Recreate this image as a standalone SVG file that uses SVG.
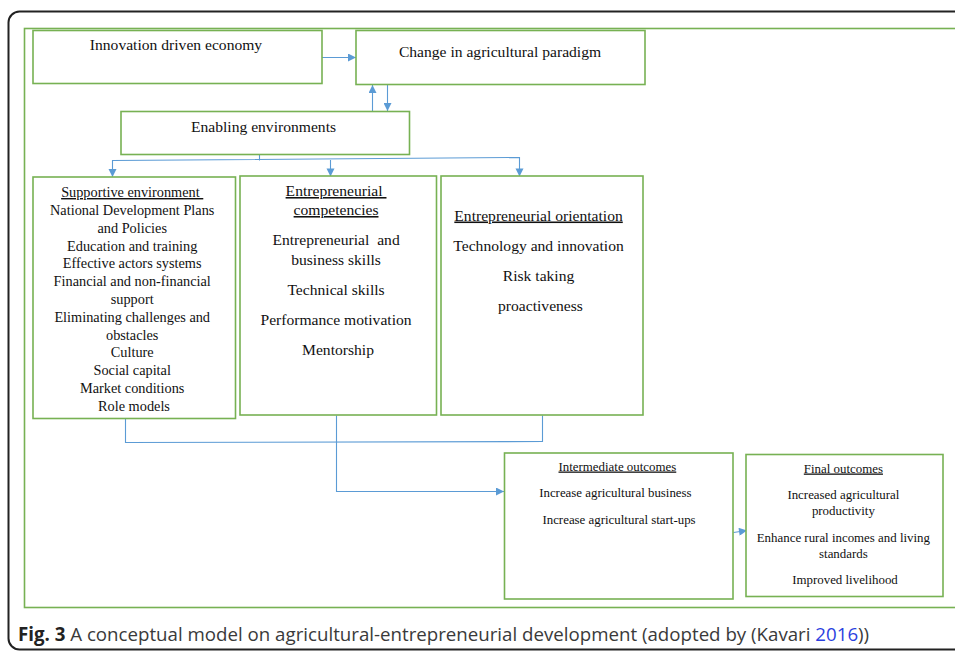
<svg xmlns="http://www.w3.org/2000/svg" width="955" height="652" viewBox="0 0 955 652">
<style>
.box{fill:#fff;stroke:#77b153;stroke-width:1.6}
.t{font-family:"Liberation Serif","Times New Roman",serif;fill:#111;text-anchor:middle}
.f15{font-size:15.6px}
.f14{font-size:14.3px}
.f12{font-size:12.9px}
.u{text-decoration:underline}
.c{fill:none;stroke:#5b9bd5;stroke-width:1.1}
.cap{font-family:"Open Sans","Noto Sans",sans-serif;font-size:18.7px;fill:#3a3a3a}
</style>
<defs>
<marker id="ah" viewBox="0 0 10 10" refX="10" refY="5" markerWidth="9" markerHeight="8" orient="auto" markerUnits="userSpaceOnUse">
<path d="M0,0 L10,5 L0,10 z" fill="#5b9bd5"/>
</marker>
</defs>
<rect width="955" height="652" fill="#fff"/>
<rect x="8.5" y="11.5" width="970" height="638" rx="11" fill="none" stroke="#222" stroke-width="2"/>
<rect x="24.5" y="28.5" width="950" height="579" fill="none" stroke="#77b153" stroke-width="1.6"/>

<g id="connectors">
<line class="c" x1="321" y1="57.5" x2="356" y2="57.5" marker-end="url(#ah)"/>
<line class="c" x1="372.5" y1="111" x2="372.5" y2="85" marker-end="url(#ah)"/>
<line class="c" x1="387.5" y1="85" x2="387.5" y2="111" marker-end="url(#ah)"/>
<polyline class="c" points="259.5,154.5 259.5,160.5"/>
<polyline class="c" points="112.5,176.5 112.5,160.5 519.5,157.5 519.5,176"/>
<line class="c" x1="330.5" y1="160" x2="330.5" y2="176"/>
<path d="M108.5,169 L116.5,169 L112.5,177 z" fill="#5b9bd5"/>
<path d="M326.5,168.5 L334.5,168.5 L330.5,176.5 z" fill="#5b9bd5"/>
<path d="M515.5,168.5 L523.5,168.5 L519.5,176.5 z" fill="#5b9bd5"/>
<polyline class="c" points="125.5,418.5 125.5,442.5 542.5,441.5 542.5,415.5"/>
<polyline class="c" points="336.5,415.5 336.5,491.5 504,491.5" marker-end="url(#ah)"/>
<line class="c" x1="733.5" y1="532.5" x2="747" y2="530.5" marker-end="url(#ah)"/>
</g>

<g id="innovation">
<rect class="box" x="33" y="30.5" width="289" height="53"/>
<text class="t f15" x="176" y="50">Innovation driven economy</text>
</g>
<g id="change">
<rect class="box" x="356" y="30.5" width="289" height="54"/>
<text class="t f15" x="500" y="57">Change in agricultural paradigm</text>
</g>
<g id="enabling">
<rect class="box" x="121" y="111.5" width="288.5" height="43"/>
<text class="t f15" x="263.5" y="131.5">Enabling environments</text>
</g>
<g id="supportive">
<rect class="box" x="33" y="177" width="202.5" height="241.5"/>
<text class="t f14">
<tspan class="u" x="134" y="197">Supportive environment&#160;</tspan>
<tspan x="134" y="215">National Development Plans</tspan>
<tspan x="134" y="232.8">and Policies</tspan>
<tspan x="134" y="250.6">Education and training</tspan>
<tspan x="134" y="268.4">Effective actors systems</tspan>
<tspan x="134" y="286.2">Financial and non-financial</tspan>
<tspan x="134" y="304">support</tspan>
<tspan x="134" y="321.8">Eliminating challenges and</tspan>
<tspan x="134" y="339.6">obstacles</tspan>
<tspan x="134" y="357.4">Culture</tspan>
<tspan x="134" y="375.2">Social capital</tspan>
<tspan x="134" y="393">Market conditions</tspan>
<tspan x="134" y="410.8">Role models</tspan>
</text>
</g>
<g id="competencies">
<rect class="box" x="240" y="176" width="196.5" height="239"/>
<text class="t f15">
<tspan class="u" x="338" y="196">Entrepreneurial&#160;</tspan>
<tspan class="u" x="338" y="215">competencies</tspan>
<tspan x="338" y="245">Entrepreneurial&#160; and</tspan>
<tspan x="338" y="264.5">business skills</tspan>
<tspan x="338" y="294.5">Technical skills</tspan>
<tspan x="338" y="324.5">Performance motivation</tspan>
<tspan x="338" y="354.5">Mentorship</tspan>
</text>
</g>
<g id="orientation">
<rect class="box" x="441" y="176" width="202" height="239"/>
<text class="t f15">
<tspan class="u" x="540.5" y="220.5">Entrepreneurial orientation</tspan>
<tspan x="540.5" y="250.5">Technology and innovation</tspan>
<tspan x="540.5" y="280.5">Risk taking</tspan>
<tspan x="540.5" y="310.5">proactiveness</tspan>
</text>
</g>
<g id="intermediate">
<rect class="box" x="504.5" y="453" width="228.5" height="146"/>
<text class="t f12">
<tspan class="u" x="619" y="470.5">Intermediate outcomes</tspan>
<tspan x="617" y="497">Increase agricultural business</tspan>
<tspan x="619" y="523.5">Increase agricultural start-ups</tspan>
</text>
</g>
<g id="final">
<rect class="box" x="746" y="454.5" width="197" height="142"/>
<text class="t f12">
<tspan class="u" x="845" y="472.5">Final outcomes</tspan>
<tspan x="845" y="498.5">Increased agricultural</tspan>
<tspan x="845" y="515">productivity</tspan>
<tspan x="845" y="542">Enhance rural incomes and living</tspan>
<tspan x="845" y="558">standards</tspan>
<tspan x="845" y="584">Improved livelihood</tspan>
</text>
</g>
<text class="cap" x="18" y="641"><tspan font-weight="bold" fill="#222">Fig. 3</tspan> A conceptual model on agricultural-entrepreneurial development (adopted by (Kavari <tspan fill="#2b3fe0">2016</tspan>))</text>
</svg>
